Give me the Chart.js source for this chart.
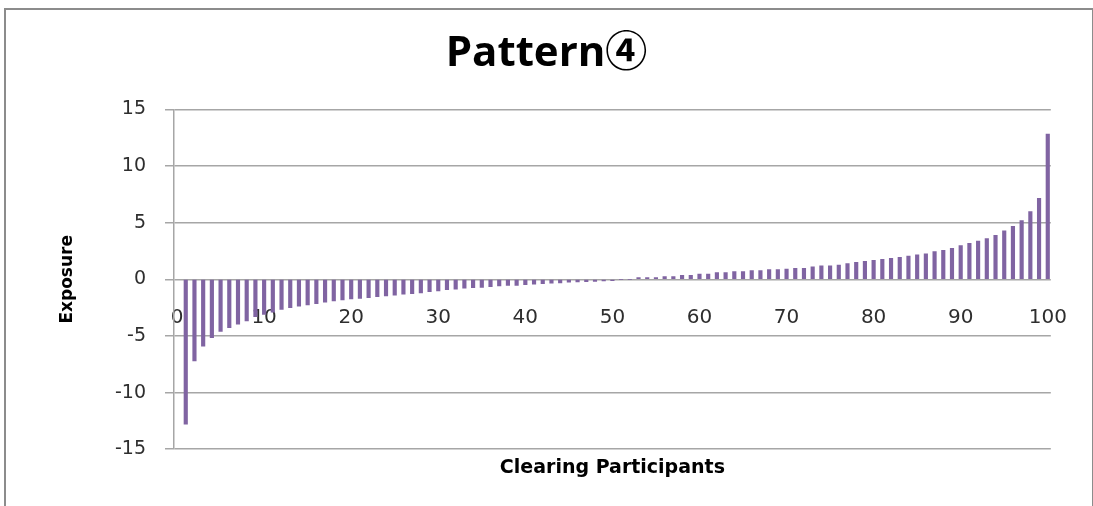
<!DOCTYPE html>
<html>
<head>
<meta charset="utf-8">
<script src="https://cdn.jsdelivr.net/npm/chart.js@4.4.0/dist/chart.umd.min.js"></script>
<style>
  body { margin: 0; background: #fff; }
  #wrap { position: relative; width: 1093px; height: 506px; overflow: hidden; }
  #frame { position: absolute; left: 4px; top: 8px; width: 1086px; height: 520px; border: 2px solid #8c8c8c; }
  #myChart { position: absolute; left: 0; top: 0; }
</style>
</head>
<body>
<div id="wrap">
  <div id="frame"></div>
  <canvas id="myChart" width="1093" height="506"></canvas>
</div>
<script>
// participants 1..100
const participants = [
  1, 2, 3, 4, 5, 6, 7, 8, 9, 10, 11, 12, 13, 14, 15, 16, 17, 18, 19, 20,
  21, 22, 23, 24, 25, 26, 27, 28, 29, 30, 31, 32, 33, 34, 35, 36, 37, 38, 39, 40,
  41, 42, 43, 44, 45, 46, 47, 48, 49, 50, 51, 52, 53, 54, 55, 56, 57, 58, 59, 60,
  61, 62, 63, 64, 65, 66, 67, 68, 69, 70, 71, 72, 73, 74, 75, 76, 77, 78, 79, 80,
  81, 82, 83, 84, 85, 86, 87, 88, 89, 90, 91, 92, 93, 94, 95, 96, 97, 98, 99, 100
];

// exposure
const exposure = [
  -12.8, -7.2, -5.9, -5.15, -4.6, -4.27, -3.97, -3.68, -3.3, -3.1,
  -2.9, -2.65, -2.5, -2.38, -2.26, -2.15, -2.03, -1.91, -1.82, -1.74,
  -1.68, -1.62, -1.53, -1.47, -1.41, -1.32, -1.26, -1.21, -1.09, -1.03,
  -0.92, -0.88, -0.79, -0.74, -0.71, -0.65, -0.59, -0.53, -0.53, -0.47,
  -0.44, -0.38, -0.35, -0.32, -0.26, -0.24, -0.21, -0.18, -0.15, -0.12,
  0, 0, 0.15, 0.15, 0.15, 0.24, 0.24, 0.35, 0.35, 0.47,
  0.47, 0.59, 0.59, 0.68, 0.68, 0.76, 0.76, 0.85, 0.85, 0.9,
  0.97, 0.97, 1.09, 1.18, 1.18, 1.26, 1.38, 1.5, 1.59, 1.68,
  1.76, 1.85, 1.94, 2.06, 2.15, 2.24, 2.44, 2.56, 2.74, 2.97,
  3.18, 3.38, 3.59, 3.88, 4.27, 4.68, 5.18, 5.97, 7.15, 12.83
];

const xTicks = [0, 10, 20, 30, 40, 50, 60, 70, 80, 90, 100];
const yTicks = [-15, -10, -5, 0, 5, 10, 15];

const gridColor = '#a6a6a6';
const tickColor = '#2e2e2e';

const config = {
  type: 'bar',
  data: {
    datasets: [{
      label: 'Exposure',
      data: participants.map((p, i) => ({ x: p, y: exposure[i] })),
      backgroundColor: 'rgb(128, 100, 162)',
      borderWidth: 0,
      barThickness: 3.5
    }]
  },
  options: {
    responsive: false,
    animation: false,
    // equal side padding keeps the title centred on the canvas
    layout: { padding: { left: 40, right: 40, top: 0, bottom: 0 } },
    plugins: {
      legend: { display: false },
      tooltip: { enabled: false },
      title: {
        display: true,
        text: 'Pattern④',
        color: '#000',
        font: { family: "'Open Sans', 'Noto Sans CJK JP', sans-serif", size: 42, weight: 'bold', lineHeight: 1.2 },
        padding: { top: 29, bottom: 30 }
      },
      subtitle: {
        display: true,
        position: 'bottom',
        fullSize: false,
        text: 'Clearing Participants',
        color: '#000',
        font: { family: 'DejaVu Sans', size: 19, weight: 'bold', lineHeight: 1.2 },
        padding: { top: 7, bottom: 27 }
      }
    },
    scales: {
      x: {
        type: 'linear',
        position: { y: 0 },
        offset: false,
        min: -0.35,
        max: 100.35,
        afterBuildTicks: (scale) => {
          scale.ticks = xTicks.map(v => ({ value: v }));
        },
        grid: { display: false, drawTicks: false, offset: false },
        border: { display: false },
        ticks: {
          color: tickColor,
          font: { family: 'DejaVu Sans', size: 20 },
          padding: 26,
          maxRotation: 0,
          autoSkip: false
        }
      },
      y: {
        min: -15,
        max: 15,
        afterBuildTicks: (scale) => {
          scale.ticks = yTicks.map(v => ({ value: v }));
        },
        afterFit: (scale) => { scale.width = 134; },
        grid: { color: gridColor, lineWidth: 1.5, tickLength: 9, tickColor: gridColor },
        border: { color: gridColor, width: 1.5 },
        ticks: {
          color: tickColor,
          font: { family: 'DejaVu Sans', size: 19 },
          padding: 19
        },
        title: {
          display: true,
          text: 'Exposure',
          color: '#000',
          font: { family: 'DejaVu Sans', size: 17, weight: 'bold', lineHeight: 1.2 },
          padding: { top: 17, bottom: 0 }
        }
      }
    }
  }
};

const myChart = new Chart(document.getElementById('myChart'), config);
</script>
</body>
</html>
